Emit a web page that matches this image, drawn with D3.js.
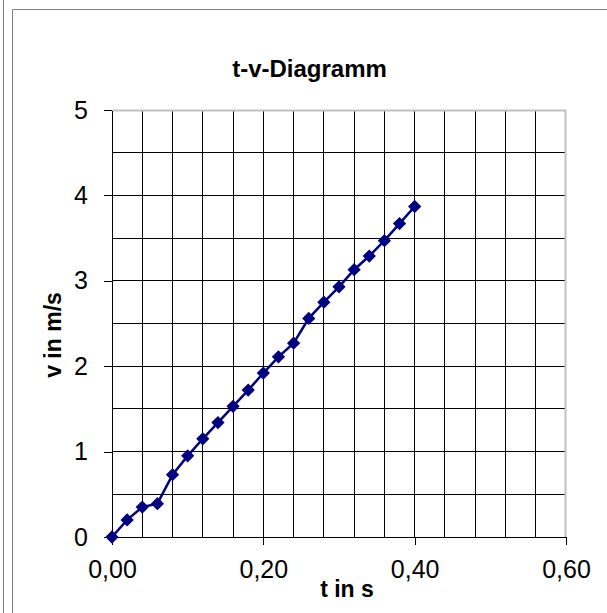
<!DOCTYPE html>
<html lang="de">
  <head>
    <meta charset="utf-8">
    <style type="text/css">
      body {
        margin: 0;
        background-color: white;
      }

      svg {
        display: block;
        font-family: "Liberation Sans", Arial, sans-serif;
      }

      .grid line {
        stroke: black;
        stroke-width: 1px;
        shape-rendering: crispEdges;
      }

      .axis path, .axis line {
        stroke: black;
        stroke-width: 1px;
        shape-rendering: crispEdges;
      }

      .axis text {
        font-size: 25px;
        fill: black;
      }
    </style>
  </head>
  <body>
    <script src="https://cdn.jsdelivr.net/npm/d3@7/dist/d3.min.js" type="text/javascript"></script>
    <svg id="chart"></svg>

    <script type="text/javascript">
// Messwerte
var times = [0, 0.02, 0.04, 0.06, 0.08, 0.10, 0.12, 0.14, 0.16, 0.18, 0.20,
             0.22, 0.24, 0.26, 0.28, 0.30, 0.32, 0.34, 0.36, 0.38, 0.40];
var speeds = [0, 0.20, 0.35, 0.39, 0.73, 0.95, 1.15, 1.34, 1.53, 1.72, 1.92,
              2.11, 2.27, 2.56, 2.75, 2.93, 3.13, 3.29, 3.47, 3.67, 3.87];

var xTicks = [0, 0.2, 0.4, 0.6];
var yTicks = [0, 1, 2, 3, 4, 5];
var title = "t-v-Diagramm";
var xTitle = "t in s";
var yTitle = "v in m/s";

var width = 607;
var height = 613;
var margin = {
  top: 110,
  bottom: 76,
  left: 112,
  right: 41,
}
var w = width - margin.left - margin.right;
var h = height - margin.top - margin.bottom;

var locale = d3.formatLocale({ decimal: ",", thousands: ".", grouping: [3], currency: ["", " €"] });

var svg = d3.select("#chart")
  .attr("width", width)
  .attr("height", height);

// Rahmen links und oben
svg.append("line")
  .attr("x1", 3.5).attr("x2", 3.5).attr("y1", 0).attr("y2", height)
  .style("stroke", "#808080");
svg.append("path")
  .attr("d", "M12.5," + height + "V9.5H" + width)
  .style("stroke", "#808080")
  .style("fill", "none");

var g = svg.append("g")
  .attr("transform", "translate(" + margin.left + "," + margin.top + ")");

var x = d3.scaleLinear()
  .domain([0, 0.6])
  .range([0, w]);

var y = d3.scaleLinear()
  .domain([0, 5])
  .range([h, 0]);

// Gitternetz
var grid = g.append("g").attr("class", "grid");
grid.selectAll(".vx").data(d3.range(0.04, 0.58, 0.04)).enter()
  .append("line")
  .attr("class", "vx")
  .attr("x1", function(d) { return x(d); })
  .attr("x2", function(d) { return x(d); })
  .attr("y1", 0)
  .attr("y2", h);
grid.selectAll(".hy").data(d3.range(0.5, 5, 0.5)).enter()
  .append("line")
  .attr("class", "hy")
  .attr("x1", 0)
  .attr("x2", w)
  .attr("y1", function(d) { return y(d); })
  .attr("y2", function(d) { return y(d); });

// Rand oben und rechts
g.append("path")
  .attr("d", "M0,0.5H" + (w - 0.5) + "V" + h)
  .style("stroke", "#c0c0c0")
  .style("stroke-width", 2)
  .style("fill", "none");

var xAxis = d3.axisBottom(x)
  .tickValues(xTicks)
  .tickFormat(locale.format(".2f"))
  .tickSize(8)
  .tickSizeOuter(0)
  .tickPadding(15);

var yAxis = d3.axisLeft(y)
  .tickValues(yTicks)
  .tickFormat(locale.format("d"))
  .tickSize(8)
  .tickSizeOuter(0)
  .tickPadding(16);

g.append("g")
  .attr("class", "x axis")
  .attr("transform", "translate(0," + h + ")")
  .call(xAxis)
  .selectAll("text")
  .style("font-family", "'Liberation Sans', Arial, sans-serif");

g.append("g")
  .attr("class", "y axis")
  .call(yAxis)
  .selectAll("text")
  .style("font-family", "'Liberation Sans', Arial, sans-serif");

// Messkurve
var points = times.map(function(t, i) { return { t: t, v: speeds[i] }; });

var line = d3.line()
  .x(function(d) { return x(d.t); })
  .y(function(d) { return y(d.v); });

g.append("path")
  .datum(points)
  .attr("d", line)
  .style("fill", "none")
  .style("stroke", "#000080")
  .style("stroke-width", 2.5);

var diamond = d3.symbol().type(d3.symbolSquare).size(88);

g.selectAll(".pt").data(points).enter()
  .append("path")
  .attr("class", "pt")
  .attr("d", diamond)
  .attr("transform", function(d) { return "translate(" + x(d.t) + "," + y(d.v) + ") rotate(45)"; })
  .style("fill", "#000080");

// Titel
svg.append("text")
  .attr("x", 309.5)
  .attr("y", 77)
  .attr("text-anchor", "middle")
  .style("font-size", "24px")
  .style("font-weight", "bold")
  .text(title);

svg.append("text")
  .attr("x", 347)
  .attr("y", 597)
  .attr("text-anchor", "middle")
  .style("font-size", "23px")
  .style("font-weight", "bold")
  .text(xTitle);

svg.append("text")
  .attr("transform", "translate(61,335) rotate(-90)")
  .attr("text-anchor", "middle")
  .style("font-size", "23px")
  .style("font-weight", "bold")
  .text(yTitle);
    </script>
  </body>
</html>
